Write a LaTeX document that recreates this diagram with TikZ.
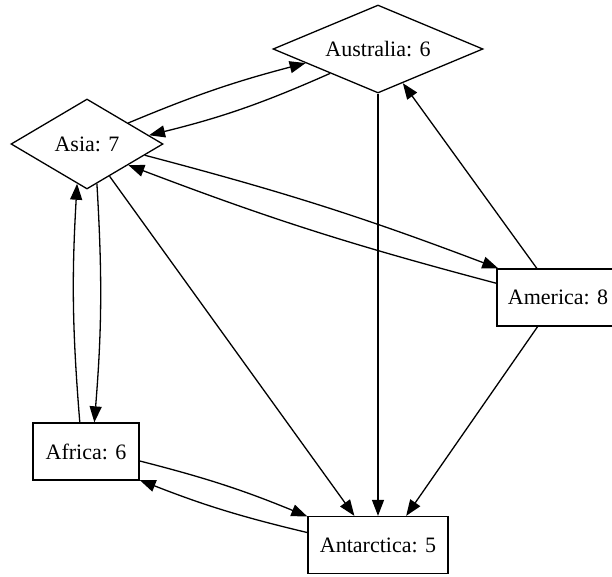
\documentclass[tikz,border=0pt]{standalone}
\usepackage{fontspec}
\setmainfont{Liberation Serif}
\usetikzlibrary{shapes.geometric,arrows.meta}
\begin{document}
\begin{tikzpicture}[x=1pt,y=-1pt,
  every node/.style={font=\fontsize{22}{26}\selectfont, draw, line width=1.3pt},
  boxnode/.style={rectangle, inner sep=0pt, minimum width=#1, minimum height=57pt},
  dia/.style={diamond, inner sep=0pt},
  edge/.style={line width=1.3pt, -{Triangle[length=16pt,width=12pt]}},
]
\useasboundingbox (0,0) rectangle (612,576);
\node[dia, shape aspect=2.4, minimum width=210pt, minimum height=88pt] (aus) at (378,49) {Australia: 6};
\node[dia, shape aspect=1.7, minimum width=152pt, minimum height=90pt] (asia) at (87,144) {Asia: 7};
\node[boxnode=122pt] (ame) at (558,297.5) {America: 8};
\node[boxnode=106pt] (afr) at (86,451.5) {Africa: 6};
\node[boxnode=140pt] (ant) at (378,545) {Antarctica: 5};

\draw[edge] (asia.27) to[bend left=4] (aus.191);
\draw[edge] (aus.207) to[bend left=5] (asia.8);
\draw[edge] (asia.-11) to[bend left=3] (ame.154);
\draw[edge] (ame.167) to[bend left=3] (asia.-27);
\draw[edge] (asia.-55) -- (ant.129);
\draw[edge] (asia.-76) to[bend left=4] (afr.74);
\draw[edge] (afr.102) to[bend left=4] (asia.-104);
\draw[edge] (afr.-10) to[bend left=4] (ant.158);
\draw[edge] (ant.170) to[bend left=4] (afr.-28);
\draw[edge] (aus.south) -- (ant.north);
\draw[edge] (ame.126) -- (aus.-54);
\draw[edge] (ame.-125) -- (ant.46);
\end{tikzpicture}
\end{document}
